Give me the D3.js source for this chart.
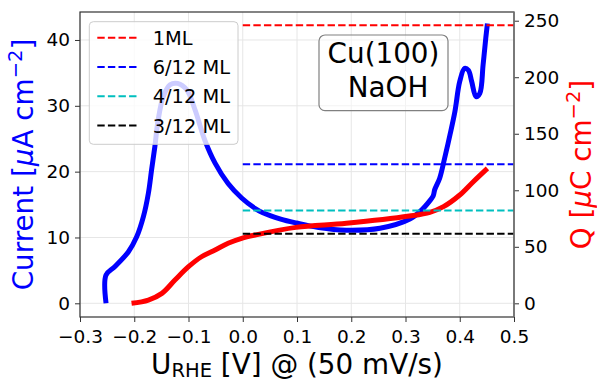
<!DOCTYPE html>
<html>
<head>
<meta charset="utf-8">
<script src="https://cdn.jsdelivr.net/npm/d3@7"></script>
<style>
  body { margin: 0; background: #fff; }
  svg { display: block; font-family: "DejaVu Sans", sans-serif; }
</style>
</head>
<body>
<div id="chart"></div>
<script>
// current (blue) - anodic sweep
var potentialI = [-0.252, -0.252, -0.2355, -0.211, -0.1955, -0.183, -0.174, -0.168, -0.162, -0.156,
  -0.1465, -0.134, -0.120, -0.103, -0.088, -0.070, -0.051, -0.027, -0.002, 0.023,
  0.036, 0.070, 0.099, 0.140, 0.191, 0.253, 0.308, 0.330, 0.345, 0.351, 0.354, 0.363,
  0.372, 0.382, 0.391, 0.400, 0.409, 0.416, 0.422, 0.430, 0.437, 0.443, 0.448, 0.451];
var currentI = [0, 4.3, 5.6, 7.8, 10.1, 13.2, 16.7, 20.3, 23.8, 27.8,
  31.4, 33.2, 33.4, 32.4, 29.4, 24.8, 21.3, 18.2, 16.0, 14.4,
  13.8, 12.8, 12.2, 11.5, 11.1, 11.4, 12.8, 14.2, 15.6, 16.3, 17.3, 19.0,
  22.0, 25.6, 29.1, 33.7, 35.7, 35.4, 33.7, 31.4, 31.9, 36.2, 40.3, 42.5];

// charge (red)
var potentialQ = [-0.205, -0.174, -0.149, -0.125, -0.100, -0.076, -0.051, -0.027, -0.002, 0.023,
  0.098, 0.191, 0.307, 0.345, 0.370, 0.400, 0.425, 0.451];
var chargeQ = [0, 2.9, 8.8, 20.6, 32.4, 41.2, 47.2, 53.1, 57.5, 60.4,
  67.2, 70.8, 77.2, 80.5, 85.5, 95.8, 107.6, 119.4];

// monolayer reference levels
var refLabels = ["1ML", "6/12 ML", "4/12 ML", "3/12 ML"];
var refLevels = [246, 123, 82, 61.5];
var refColors = ["#ff0000", "#0000ff", "#00bfbf", "#000000"];

var xTicks = [-0.3, -0.2, -0.1, 0.0, 0.1, 0.2, 0.3, 0.4, 0.5];
var leftTicks = [0, 10, 20, 30, 40];
var rightTicks = [0, 50, 100, 150, 200, 250];

var W = 597, H = 381;
var margin = {top: 12, right: 83, bottom: 64, left: 80};
var width = W - margin.left - margin.right,
    height = H - margin.top - margin.bottom;

var svg = d3.select("#chart").append("svg")
    .attr("width", W)
    .attr("height", H);

var g = svg.append("g")
    .attr("transform", "translate(" + margin.left + "," + margin.top + ")");

var x = d3.scaleLinear().domain([-0.3, 0.5]).range([0, width]);
var y = d3.scaleLinear().domain([-2.08, 44.25]).range([height, 0]);
var y2 = d3.scaleLinear().domain([-12.1, 257.7]).range([height, 0]);

// grid
g.append("g").selectAll("line").data(xTicks).join("line")
    .attr("x1", d => x(d)).attr("x2", d => x(d))
    .attr("y1", 0).attr("y2", height)
    .attr("stroke", "#e6e6e6").attr("stroke-width", 1);
g.append("g").selectAll("line").data(leftTicks).join("line")
    .attr("x1", 0).attr("x2", width)
    .attr("y1", d => y(d)).attr("y2", d => y(d))
    .attr("stroke", "#e6e6e6").attr("stroke-width", 1);

var lineI = d3.line()
    .x((d, i) => x(potentialI[i]))
    .y(d => y(d))
    .curve(d3.curveCatmullRom.alpha(0.5));

g.append("path")
    .datum(currentI)
    .attr("d", lineI)
    .attr("fill", "none")
    .attr("stroke", "#0000ff")
    .attr("stroke-width", 5);

var lineQ = d3.line()
    .x((d, i) => x(potentialQ[i]))
    .y(d => y2(d))
    .curve(d3.curveCatmullRom.alpha(0.5));

g.append("path")
    .datum(chargeQ)
    .attr("d", lineQ)
    .attr("fill", "none")
    .attr("stroke", "#ff0000")
    .attr("stroke-width", 5);

// reference lines from 0 V to the right edge
g.append("g").selectAll("line").data(refLevels).join("line")
    .attr("x1", x(0)).attr("x2", x(0.5))
    .attr("y1", d => y2(d)).attr("y2", d => y2(d))
    .attr("stroke", (d, i) => refColors[i])
    .attr("stroke-width", 2)
    .attr("stroke-dasharray", "7.4,3.2");

// axes
var xAxis = d3.axisBottom(x).tickValues(xTicks).tickSize(5).tickPadding(5)
    .tickFormat(d3.format(".1f"));
var yAxis = d3.axisLeft(y).tickValues(leftTicks).tickSize(5).tickPadding(5);
var yAxis2 = d3.axisRight(y2).tickValues(rightTicks).tickSize(5).tickPadding(5);

function styleAxis(sel) {
  sel.select(".domain").remove();
  sel.selectAll("line").attr("stroke", "#333");
  sel.selectAll("text").attr("fill", "#000")
      .style("font-size", "18.5px").style("font-family", "DejaVu Sans");
}

g.append("g").attr("transform", "translate(0," + height + ")")
    .call(xAxis).call(styleAxis)
    .selectAll("text").attr("y", 26).attr("dy", 0)
    .text(d => d3.format(".1f")(d).replace("-", "\u2212"));

g.append("g").call(yAxis).call(styleAxis);
g.append("g").attr("transform", "translate(" + width + ",0)")
    .call(yAxis2).call(styleAxis);

// spines
g.append("rect")
    .attr("width", width).attr("height", height)
    .attr("fill", "none").attr("stroke", "#333").attr("stroke-width", 1.2);
g.append("line")
    .attr("x1", width).attr("x2", width).attr("y1", 0).attr("y2", height)
    .attr("stroke", "#777").attr("stroke-width", 1.5);

// legend
var legend = g.append("g").attr("transform", "translate(9.3,9.7)");
legend.append("rect")
    .attr("width", 148.7).attr("height", 122.6).attr("rx", 4)
    .attr("fill", "#fff").attr("fill-opacity", 0.8)
    .attr("stroke", "#ccc").attr("stroke-width", 1);
var items = legend.selectAll("g.item").data(refLabels).join("g")
    .attr("class", "item")
    .attr("transform", (d, i) => "translate(0," + (16 + i * 29.3) + ")");
items.append("line")
    .attr("x1", 8).attr("x2", 48)
    .attr("stroke", (d, i) => refColors[i])
    .attr("stroke-width", 2)
    .attr("stroke-dasharray", "7.4,3.2");
items.append("text")
    .attr("x", 63.4).attr("y", 7)
    .style("font-size", "19.4px")
    .text(d => d);

// text box
var box = g.append("g");
box.append("rect")
    .attr("x", 239).attr("y", 23).attr("width", 129).attr("height", 75.7)
    .attr("rx", 6)
    .attr("fill", "#fff").attr("fill-opacity", 0.5)
    .attr("stroke", "#808080").attr("stroke-width", 1.2);
box.append("text")
    .attr("x", 303.5).attr("y", 51)
    .attr("text-anchor", "middle")
    .style("font-size", "27.8px")
    .text("Cu(100)");
box.append("text")
    .attr("x", 308).attr("y", 85)
    .attr("text-anchor", "middle")
    .style("font-size", "27.8px")
    .text("NaOH");

// axis labels
var xl = svg.append("text")
    .attr("x", margin.left + width / 2).attr("y", 373.5)
    .attr("text-anchor", "middle")
    .style("font-size", "27.8px");
xl.append("tspan").text("U");
xl.append("tspan").attr("dy", 3.5).style("font-size", "19.5px").text("RHE");
xl.append("tspan").attr("dy", -3.5).text(" [V] @ (50 mV/s)");

var yl = svg.append("text")
    .attr("transform", "translate(33," + (margin.top + height / 2) + ") rotate(-90)")
    .attr("text-anchor", "middle")
    .attr("fill", "#0000ff")
    .style("font-size", "27.8px");
yl.append("tspan").text("Current [");
yl.append("tspan").style("font-style", "italic").text("\u03bc");
yl.append("tspan").text("A cm");
yl.append("tspan").attr("dy", -11).style("font-size", "19.5px").text("\u22122");
yl.append("tspan").attr("dy", 11).text("]");

var yr = svg.append("text")
    .attr("transform", "translate(591," + (margin.top + height / 2) + ") rotate(-90)")
    .attr("text-anchor", "middle")
    .attr("fill", "#ff0000")
    .style("font-size", "27.8px");
yr.append("tspan").text("Q [");
yr.append("tspan").style("font-style", "italic").text("\u03bc");
yr.append("tspan").text("C cm");
yr.append("tspan").attr("dy", -11).style("font-size", "19.5px").text("\u22122");
yr.append("tspan").attr("dy", 11).text("]");
</script>
</body>
</html>
